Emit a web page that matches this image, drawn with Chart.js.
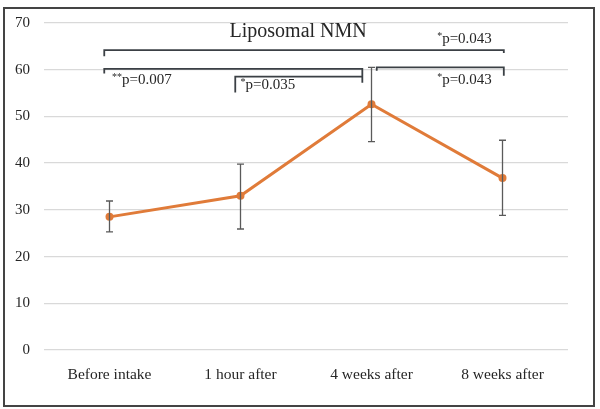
<!DOCTYPE html>
<html>
<head>
<meta charset="utf-8">
<script src="https://cdn.jsdelivr.net/npm/chart.js@4/dist/chart.umd.min.js"></script>
<style>
  html, body { margin: 0; padding: 0; background: #fff; }
  #frame { position: absolute; left: 3px; top: 7px; width: 592px; height: 400px;
           border: 2px solid #444; box-sizing: border-box; }
  #wrap { position: absolute; left: 0; top: 0; width: 600px; height: 409px; }
</style>
</head>
<body>
<div id="frame"></div>
<div id="wrap"><canvas id="chart"></canvas></div>
<script>
'use strict';

const FONT = '"Liberation Serif", "Times New Roman", serif';

// values
const categories = ['Before intake', '1 hour after', '4 weeks after', '8 weeks after'];
const meanValues = [28.5, 33.0, 52.6, 36.8];
const upperValues = [31.9, 39.8, 60.5, 44.9];
const lowerValues = [25.3, 25.9, 44.6, 28.8];
const yTicks = [0, 10, 20, 30, 40, 50, 60, 70];

// significance brackets, in category index / value units
const brackets = [
  { x1: -0.04, x2: 3.01, y: 64.2, left: 62.9, right: 63.6 },
  { x1: -0.04, x2: 1.93, y: 60.2, left: 59.2, right: 57.2 },
  { x1: 0.96, x2: 1.93, y: 58.5, left: 55.1, right: 58.5 },
  { x1: 2.04, x2: 3.01, y: 60.5, left: 59.8, right: 58.7 }
];
const labels = [
  { x: 2.71, y: 66.6, stars: '*', text: 'p=0.043', align: 'center' },
  { x: 2.71, y: 57.8, stars: '*', text: 'p=0.043', align: 'center' },
  { x: 0.02, y: 57.8, stars: '**', text: 'p=0.007', align: 'left' },
  { x: 1.0, y: 56.7, stars: '*', text: 'p=0.035', align: 'left' }
];
const title = { x: 1.44, y: 68.1, text: 'Liposomal NMN' };

const overlay = {
  id: 'overlay',
  afterDatasetsDraw(chart) {
    const ctx = chart.ctx;
    const xs = chart.scales.x;
    const ys = chart.scales.y;
    ctx.save();

    // error bars
    ctx.strokeStyle = '#5a5a5a';
    ctx.lineWidth = 1.3;
    meanValues.forEach((v, i) => {
      const x = xs.getPixelForValue(i);
      const top = ys.getPixelForValue(upperValues[i]);
      const bot = ys.getPixelForValue(lowerValues[i]);
      ctx.beginPath();
      ctx.moveTo(x, top); ctx.lineTo(x, bot);
      ctx.moveTo(x - 3.5, top); ctx.lineTo(x + 3.5, top);
      ctx.moveTo(x - 3.5, bot); ctx.lineTo(x + 3.5, bot);
      ctx.stroke();
    });

    // brackets
    ctx.strokeStyle = '#3b4045';
    ctx.lineWidth = 1.8;
    brackets.forEach(b => {
      const x1 = xs.getPixelForValue(b.x1);
      const x2 = xs.getPixelForValue(b.x2);
      ctx.beginPath();
      ctx.moveTo(x1, ys.getPixelForValue(b.left));
      ctx.lineTo(x1, ys.getPixelForValue(b.y));
      ctx.lineTo(x2, ys.getPixelForValue(b.y));
      ctx.lineTo(x2, ys.getPixelForValue(b.right));
      ctx.stroke();
    });

    // p-value labels
    ctx.fillStyle = '#262626';
    ctx.textBaseline = 'middle';
    labels.forEach(l => {
      ctx.font = '10px ' + FONT;
      const sw = ctx.measureText(l.stars).width;
      ctx.font = '15px ' + FONT;
      const tw = ctx.measureText(l.text).width;
      let x = xs.getPixelForValue(l.x);
      if (l.align === 'center') { x -= (sw + tw) / 2; }
      const y = ys.getPixelForValue(l.y);
      ctx.textAlign = 'left';
      ctx.font = '10px ' + FONT;
      ctx.fillText(l.stars, x, y - 3);
      ctx.font = '15px ' + FONT;
      ctx.fillText(l.text, x + sw, y);
    });

    // title
    ctx.font = '20px ' + FONT;
    ctx.textAlign = 'center';
    ctx.fillText(title.text, xs.getPixelForValue(title.x), ys.getPixelForValue(title.y));
    ctx.restore();
  }
};

new Chart(document.getElementById('chart'), {
  type: 'line',
  data: {
    labels: categories,
    datasets: [{
      data: meanValues,
      borderColor: '#e07b39',
      backgroundColor: '#e07b39',
      borderWidth: 3,
      pointRadius: 4,
      pointBorderWidth: 0,
      tension: 0
    }]
  },
  options: {
    responsive: true,
    maintainAspectRatio: false,
    animation: false,
    layout: { padding: { left: 0, right: 32, top: 23, bottom: 0 } },
    plugins: { legend: { display: false }, tooltip: { enabled: false } },
    scales: {
      x: {
        offset: true,
        grid: { display: false, drawTicks: false },
        border: { display: false },
        ticks: { color: '#262626', font: { family: FONT, size: 15.5 }, padding: 16, maxRotation: 0 },
        afterFit(s) { s.height = 59; }
      },
      y: {
        min: 0,
        max: 70,
        afterBuildTicks(s) { s.ticks = yTicks.map(v => ({ value: v })); },
        grid: { color: '#d9d9d9', lineWidth: 1.3, drawTicks: false },
        border: { display: false },
        ticks: { color: '#262626', font: { family: FONT, size: 15 }, padding: 14 },
        afterFit(s) { s.width = 44; }
      }
    }
  },
  plugins: [overlay]
});
</script>
</body>
</html>
